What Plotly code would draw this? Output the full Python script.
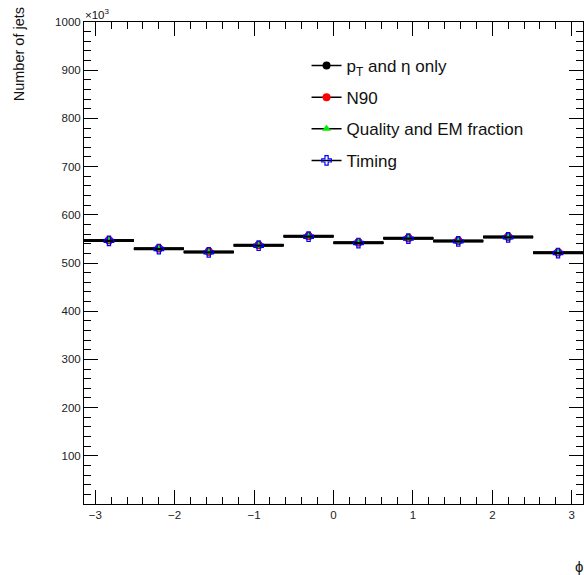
import math
import plotly.graph_objects as go

# ---- data (values in units of 10^3 jets) ----
n_bins = 10
bin_width = 2 * math.pi / n_bins
bin_centers = [-math.pi + (i + 0.5) * bin_width for i in range(n_bins)]

pt_eta_only = [547.4, 530.4, 523.6, 537.4, 556.1, 542.9, 552.0, 546.4, 554.7, 522.1]
n90 = [547.0, 530.0, 523.2, 537.0, 555.7, 542.5, 551.6, 546.0, 554.3, 521.7]
quality_em = [546.2, 529.3, 522.5, 536.3, 555.0, 541.8, 550.9, 545.3, 553.6, 521.0]
timing = [545.8, 528.9, 522.1, 535.9, 554.6, 541.4, 550.5, 544.9, 553.2, 520.6]

series_names = ["p<sub>T</sub> and η only", "N90", "Quality and EM fraction", "Timing"]
x_ticks = [-3, -2, -1, 0, 1, 2, 3]
x_tick_labels = ["−3", "−2", "−1", "0", "1", "2", "3"]
y_ticks = [100, 200, 300, 400, 500, 600, 700, 800, 900, 1000]

FONT = "Liberation Sans, Arial, Helvetica, sans-serif"

styles = [
    dict(symbol="circle", color="black", size=8, line=dict(width=0)),
    dict(symbol="circle", color="red", size=8, line=dict(width=0)),
    dict(symbol="triangle-up", color="#00ee00", size=8, line=dict(width=0)),
    dict(symbol="cross-open", color="blue", size=8, line=dict(width=1.2, color="blue")),
]
values = [pt_eta_only, n90, quality_em, timing]

fig = go.Figure()
for name, vals, st in zip(series_names, values, styles):
    fig.add_trace(go.Scatter(
        x=bin_centers, y=vals, mode="markers",
        marker=st,
        error_x=dict(type="constant", value=bin_width / 2, width=0,
                     thickness=2.2, color="black"),
        showlegend=False, hoverinfo="skip",
    ))

for i, (name, st) in enumerate(zip(series_names, styles)):
    fig.add_trace(go.Scatter(
        x=[None], y=[None], mode="lines+markers", name=name,
        line=dict(color="black", width=1.5),
        marker=st, legendgroup="g%d" % i,
    ))

axis_common = dict(
    showline=True, linecolor="black", linewidth=1, mirror="ticks",
    ticks="inside", ticklen=14, tickcolor="black", tickwidth=1,
    showgrid=False, zeroline=False,
    tickfont=dict(family=FONT, size=11.5, color="#222"),
)

fig.update_xaxes(
    range=[-math.pi, math.pi], tickvals=x_ticks, ticktext=x_tick_labels,
    minor=dict(dtick=0.2, tick0=0, ticks="inside", ticklen=7, tickcolor="black"),
    **axis_common,
)
fig.update_yaxes(
    range=[0, 1000], tickvals=y_ticks,
    minor=dict(dtick=20, tick0=0, ticks="inside", ticklen=7, tickcolor="black"),
    **axis_common,
)

fig.update_layout(
    width=584, height=575,
    margin=dict(l=84, r=1, t=22, b=71),
    paper_bgcolor="white", plot_bgcolor="white",
    font=dict(family=FONT, color="#111"),
    legend=dict(
        x=0.446, y=0.946, xanchor="left", yanchor="top",
        font=dict(family=FONT, size=17, color="#111"),
        bgcolor="rgba(0,0,0,0)", tracegroupgap=6.5,
        itemwidth=30,
    ),
    annotations=[
        dict(text="Number of jets", textangle=-90, xref="paper", yref="paper",
             x=-0.13, y=1.035, xanchor="center", yanchor="top", showarrow=False,
             font=dict(family=FONT, size=14.5, color="#111")),
        dict(text="×10<sup>3</sup>", xref="paper", yref="paper",
             x=-0.003, y=0.998, xanchor="left", yanchor="bottom", showarrow=False,
             font=dict(family=FONT, size=11.5, color="#111")),
        dict(text="ϕ", xref="paper", yref="paper",
             x=0.991, y=-0.13, xanchor="center", yanchor="middle", showarrow=False,
             font=dict(family=FONT, size=15, color="#111")),
    ],
)

fig.write_html(
    "out.html",
    config={"displayModeBar": False},
    post_script="document.body.style.margin='0';document.body.style.overflow='hidden';",
)
